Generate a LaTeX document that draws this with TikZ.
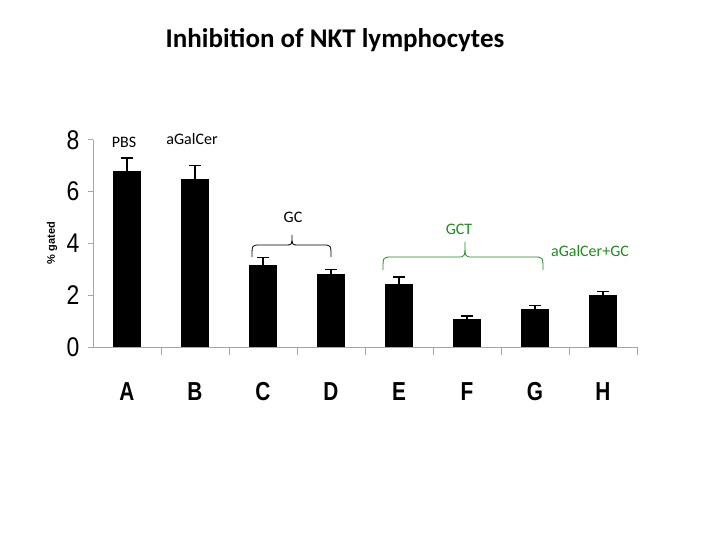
\documentclass[tikz,border=0pt]{standalone}
\usepackage{fontspec}
\setmainfont{Carlito}
\newfontfamily\arial{Liberation Sans}
\definecolor{grn}{RGB}{30,140,30}
\begin{document}
\begin{tikzpicture}[x=1pt,y=-1pt]
\useasboundingbox (0,0) rectangle (720,540);
\tikzset{bar/.style={fill=black},axis/.style={draw=gray!70,line width=0.8pt},
 tnum/.style={font=\arial\fontsize{27}{27}\selectfont,xscale=0.85},
 cat/.style={font=\arial\bfseries\fontsize{26}{26}\selectfont,xscale=0.8},
 lab/.style={font=\fontsize{16}{16}\selectfont},
 brace/.style={line width=0.8pt}}
\node[font=\bfseries\fontsize{27}{27}\selectfont] (title) at (335,40) {Inhibition of NKT lymphocytes};
% axes
\draw[axis] (93,140) -- (93,347) -- (637,347);
\foreach \v in {0,2,4,6,8}{
 \draw[axis] (88,347-25.9*\v) -- (93,347-25.9*\v);
 \node[tnum] (n\v) at (73,347-25.9*\v) {\v};}
\foreach \i in {1,...,8}{\draw[axis] (93+68*\i,347) -- (93+68*\i,355);}
\node[rotate=90,font=\arial\bfseries\fontsize{11}{11}\selectfont] (yl) at (52,243) {\% gated};
\foreach \c/\val/\err [count=\k from 0] in {A/6.8/7.3,B/6.5/7.0,C/3.15/3.45,D/2.8/3.0,E/2.45/2.7,F/1.1/1.2,G/1.45/1.6,H/2.0/2.15}{
 \pgfmathsetmacro\xc{127+68*\k}
 \fill[bar] (\xc-14,347) rectangle (\xc+14,347-25.9*\val);
 \draw[line width=1.2pt] (\xc,347-25.9*\val) -- (\xc,347-25.9*\err) (\xc-6,347-25.9*\err) -- (\xc+6,347-25.9*\err);
 \node[cat] (c\c) at (\xc,392) {\c};}
\node[lab] (pbs) at (124,142) {PBS};
\node[lab] (agc) at (192,139) {aGalCer};
\node[lab] (gc) at (293,217) {GC};
\node[lab,text=grn] (gct) at (459,229) {GCT};
\node[lab,text=grn] (agcgc) at (590,251) {aGalCer+GC};
\draw[brace] (252,257) .. controls (252,245) .. (260,245) -- (286,245) .. controls (292,245) .. (292,235) .. controls (292,245) .. (298,245) -- (323,245) .. controls (331,245) .. (331,257);
\draw[brace,grn] (383,270) .. controls (383,257) .. (392,257) -- (458,257) .. controls (465,257) .. (465,242) .. controls (465,257) .. (472,257) -- (534,257) .. controls (543,257) .. (543,270);
\end{tikzpicture}
\end{document}
